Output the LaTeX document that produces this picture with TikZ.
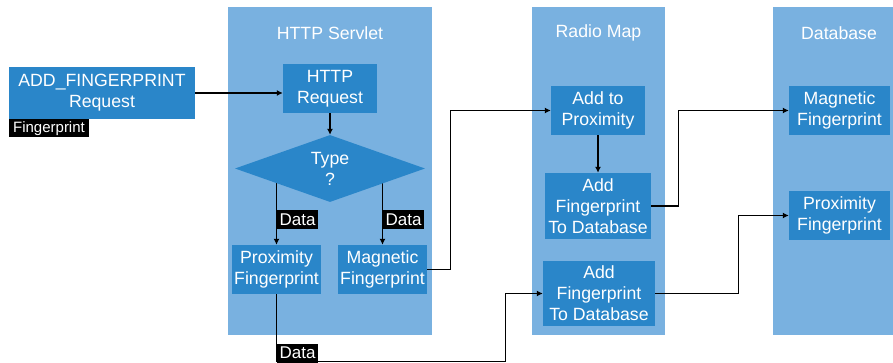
\documentclass[tikz,border=0pt]{standalone}
\usepackage{fontspec}
\setmainfont{Liberation Sans}
\usetikzlibrary{shapes.geometric,arrows.meta,backgrounds}
\definecolor{lanefill}{HTML}{79B1E0}
\definecolor{boxfill}{HTML}{2A86C9}

\begin{document}
\begin{tikzpicture}[x=1pt,y=-1pt,
    lane/.style={fill=lanefill,minimum width=#1,minimum height=328,inner sep=0},
    box/.style 2 args={fill=boxfill,text=white,align=center,inner sep=0,
      minimum width=#1,minimum height=#2,font=\fontsize{17.7}{21}\selectfont},
    title/.style={text=white,font=\fontsize{17.7}{21}\selectfont},
    tag/.style={fill=black,text=white,inner xsep=2.5pt,inner ysep=0,minimum height=19,
      font=\fontsize{17}{19}\selectfont},
    link/.style={line width=1.3pt,-{Latex[length=6pt,width=6pt]}}]
  \useasboundingbox (0,0) rectangle (893,363);
  % Lanes first
  \begin{scope}[on background layer]
    \node[lane=204] (servlet) at (330,171) {};
    \node[lane=133] (radiomap) at (598.5,171) {};
    \node[lane=132] (database) at (839,171) {};
  \end{scope}
  \node[title] (servlettitle) at (330,33) {HTTP Servlet};
  \node[title] (radiomaptitle) at (598.5,33) {Radio Map};
  \node[title] (databasetitle) at (839,33) {Database};
  % Boxes
  \node[box={186}{52}] (addreq) at (102,93) {ADD\_FINGERPRINT\\Request};
  \node[tag,minimum width=80,minimum height=18,font=\fontsize{15}{17}\selectfont,
    anchor=north west] (fptag) at (addreq.south west) {Fingerprint};
  \node[box={94}{49}] (httpreq) at (330,88.5) {HTTP\\Request};
  \node[box={190}{67},shape=diamond,aspect=2.8] (type) at (330,168.5) {Type\\?};
  \node[box={89}{49}] (proxfp) at (276.5,269.5) {Proximity\\Fingerprint};
  \node[box={89}{49}] (magfp) at (382.5,269.5) {Magnetic\\Fingerprint};
  \node[box={94}{49}] (addprox) at (598,110.5) {Add to\\Proximity};
  \node[box={106}{66}] (adddbone) at (598,206) {Add\\Fingerprint\\To Database};
  \node[box={112}{65}] (adddbtwo) at (599,293.5) {Add\\Fingerprint\\To Database};
  \node[box={101}{49}] (dbmag) at (839.5,110.5) {Magnetic\\Fingerprint};
  \node[box={101}{49}] (dbprox) at (839.5,215.5) {Proximity\\Fingerprint};
  % Connectors, under the boxes
  \begin{scope}[on background layer]
    \draw[link] (addreq.east) -- (addreq.east -| httpreq.west);
    \draw[link] (httpreq.south) -- (type.north);
    \draw[link] (proxfp.north |- type.center) -- node[tag,pos=0.67,anchor=west] {Data} (proxfp.north);
    \draw[link] (magfp.north |- type.center) -- node[tag,pos=0.67,anchor=west] {Data} (magfp.north);
    \draw[link] (proxfp.south) |- node[tag,pos=0.5,anchor=south west,yshift=-2pt] {Data}
      ++(229,67) |- (adddbtwo.west);
    \draw[link] (magfp.east) -- ++(23,0) |- (addprox.west);
    \draw[link] (addprox.south) -- (adddbone.north);
    \draw[link] (adddbone.east) -- ++(27,0) |- (dbmag.west);
    \draw[link] (adddbtwo.east) -- ++(83,0) |- (dbprox.west);
  \end{scope}
\end{tikzpicture}
\end{document}
